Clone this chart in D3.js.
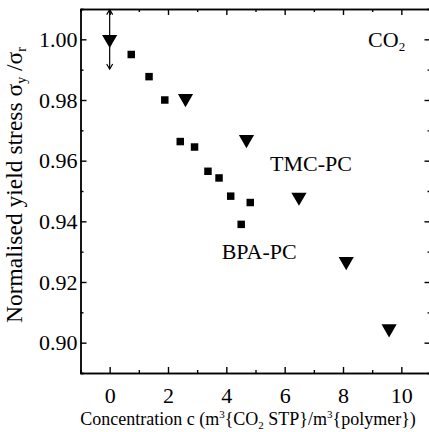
<!DOCTYPE html>
<html>
<head>
<meta charset="utf-8">
<script src="https://cdn.jsdelivr.net/npm/d3@7"></script>
<style>
  body { margin: 0; background: #fff; }
  svg { display: block; font-family: "Liberation Serif", "DejaVu Serif", serif; }
  .axis path, .axis line { stroke: #000; stroke-width: 1.4; }
  .axis text { font-family: "Liberation Serif", "DejaVu Serif", serif; font-size: 22px; fill: #000; }
</style>
</head>
<body>
<svg id="chart" width="429" height="432"></svg>
<script>
// BPA-PC (squares)
const bpaConc = [0.74, 1.35, 1.89, 2.42, 2.91, 3.37, 3.75, 4.15, 4.51, 4.82];
const bpaStress = [0.995, 0.9877, 0.980, 0.9663, 0.9645, 0.9565, 0.9543, 0.9483, 0.939, 0.9462];
// TMC-PC (down triangles)
const tmcConc = [0, 2.6, 4.69, 6.49, 8.11, 9.58];
const tmcStress = [1.000, 0.9805, 0.967, 0.948, 0.9268, 0.9046];
// error bar on the reference point
const errConc = [0];
const errMid = [1.0];
const errHalf = [0.0098];

const xTicks = [0, 2, 4, 6, 8, 10];
const xMinor = [-1, 1, 3, 5, 7, 9, 11];
const yTicks = [0.90, 0.92, 0.94, 0.96, 0.98, 1.00];
const yMinor = [0.89, 0.91, 0.93, 0.95, 0.97, 0.99, 1.01];

var svg = d3.select("#chart");
const mLeft = 80.5, mRight = 430.5, mTop = 9, mBottom = 373;

var x = d3.scaleLinear().domain([-1, 11]).range([mLeft, mRight]);
var y = d3.scaleLinear().domain([0.89, 1.01]).range([mBottom, mTop]);

// axes, ticks pointing inwards
function addAxis(axis, tx, ty) {
    return svg.append("g").attr("class", "axis")
        .attr("transform", `translate(${tx},${ty})`)
        .call(axis)
        .attr("font-family", null).attr("font-size", null);
}
addAxis(d3.axisBottom(x).tickValues(xTicks).tickSizeInner(-6).tickSizeOuter(0).tickPadding(14).tickFormat(d3.format("d")), 0, mBottom);
addAxis(d3.axisBottom(x).tickValues(xMinor).tickSize(-3).tickFormat(""), 0, mBottom);
addAxis(d3.axisTop(x).tickValues(xTicks).tickSizeInner(-6).tickSizeOuter(0).tickFormat(""), 0, mTop);
addAxis(d3.axisTop(x).tickValues(xMinor).tickSize(-3).tickFormat(""), 0, mTop);
addAxis(d3.axisLeft(y).tickValues(yTicks).tickSizeInner(-6).tickSizeOuter(0).tickPadding(3).tickFormat(d3.format(".2f")), mLeft, 0);
addAxis(d3.axisLeft(y).tickValues(yMinor).tickSize(-3).tickFormat(""), mLeft, 0);
addAxis(d3.axisRight(y).tickValues(yTicks).tickSizeInner(-6).tickSizeOuter(0).tickFormat(""), mRight, 0);
addAxis(d3.axisRight(y).tickValues(yMinor).tickSize(-3).tickFormat(""), mRight, 0);

// error bar with arrow heads
var eb = svg.append("g");
errConc.forEach((c, i) => {
    var cx = x(c), y1 = y(errMid[i] + errHalf[i]), y2 = y(errMid[i] - errHalf[i]);
    eb.append("line").attr("x1", cx).attr("x2", cx).attr("y1", y1).attr("y2", y2)
        .attr("stroke", "#000").attr("stroke-width", 1.2);
    eb.append("path").attr("d", `M${cx - 3},${y1 + 5}L${cx},${y1}L${cx + 3},${y1 + 5}`)
        .attr("fill", "none").attr("stroke", "#000").attr("stroke-width", 1.2);
    eb.append("path").attr("d", `M${cx - 3},${y2 - 5}L${cx},${y2}L${cx + 3},${y2 - 5}`)
        .attr("fill", "none").attr("stroke", "#000").attr("stroke-width", 1.2);
});

// squares
svg.append("g").selectAll("path")
    .data(bpaConc.map((c, i) => [c, bpaStress[i]]))
    .join("path")
    .attr("d", d3.symbol(d3.symbolSquare, 56))
    .attr("transform", d => `translate(${x(d[0])},${y(d[1])})`)
    .attr("fill", "#000");

// down triangles
svg.append("g").selectAll("path")
    .data(tmcConc.map((c, i) => [c, tmcStress[i]]))
    .join("path")
    .attr("d", d3.symbol(d3.symbolTriangle, 100))
    .attr("transform", d => `translate(${x(d[0])},${y(d[1])}) rotate(180)`)
    .attr("fill", "#000");

// annotations
svg.append("text").attr("x", x(5.5)).attr("y", y(0.9566)).attr("font-size", 22).text("TMC-PC");
svg.append("text").attr("x", x(3.84)).attr("y", y(0.9276)).attr("font-size", 22).text("BPA-PC");
var co2 = svg.append("text").attr("x", x(8.86)).attr("y", y(0.9975)).attr("font-size", 22);
co2.append("tspan").text("CO");
co2.append("tspan").attr("font-size", 13).attr("dy", 4).text("2");

// x title
var xt = svg.append("text").attr("x", 248).attr("y", 425).attr("text-anchor", "middle").attr("font-size", 18);
xt.append("tspan").text("Concentration c (m");
xt.append("tspan").attr("font-size", 11).attr("dy", -7).text("3");
xt.append("tspan").attr("dy", 7).text("{CO");
xt.append("tspan").attr("font-size", 11).attr("dy", 4).text("2");
xt.append("tspan").attr("dy", -4).text(" STP}/m");
xt.append("tspan").attr("font-size", 11).attr("dy", -7).text("3");
xt.append("tspan").attr("dy", 7).text("{polymer})");

// y title
var yt = svg.append("text").attr("transform", "translate(22,185) rotate(-90)")
    .attr("text-anchor", "middle").attr("font-size", 23.5);
yt.append("tspan").text("Normalised yield stress σ");
yt.append("tspan").attr("font-size", 14).attr("dy", 4).text("y");
yt.append("tspan").attr("dy", -4).text(" /σ");
yt.append("tspan").attr("font-size", 14).attr("dy", 4).text("r");
</script>
</body>
</html>
